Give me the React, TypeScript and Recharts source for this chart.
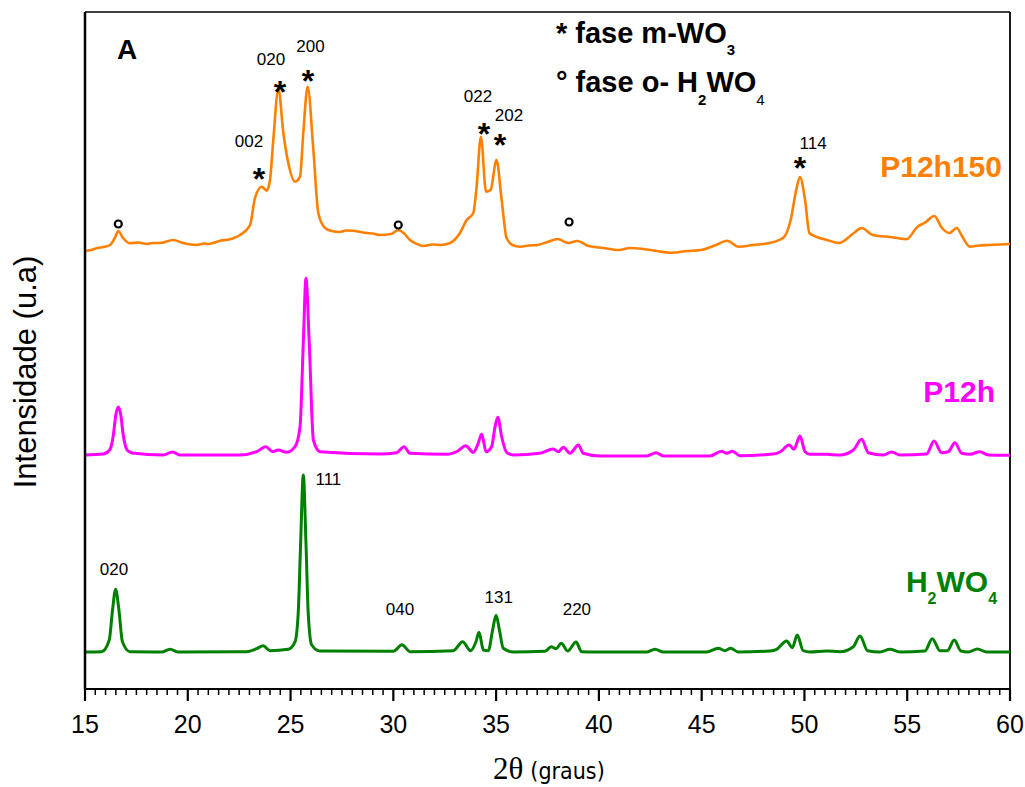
import React from 'react';
import { LineChart, Line, XAxis, YAxis, ReferenceDot, ReferenceLine } from 'recharts';

// ---- axis ticks ----
const MAJOR_TICKS = [15, 20, 25, 30, 35, 40, 45, 50, 55, 60];
const MINOR_STEP = 0.5;
const ALL_TICKS = Array.from({ length: 91 }, (_, i) => 15 + i * MINOR_STEP);
const X_DOMAIN: [number, number] = [15, 60];
const Y_DOMAIN: [number, number] = [0, 677];

// ---- series: [2theta, intensity above own baseline] ----
const H2WO4: [number, number][] = [
  [15.0, 0], [15.81, 0.3], [16.18, 12], [16.34, 42], [16.49, 62.7], [16.65, 42], [16.82, 10.3],
  [17.19, 0.3], [18.73, 0], [19.14, 2.7], [19.54, 0], [22.86, 0.3], [23.35, 3.3], [23.67, 6.3],
  [24.0, 1.3], [24.89, 2.7], [25.22, 10.3], [25.38, 42], [25.49, 108.7], [25.62, 177], [25.75, 108.7],
  [25.86, 38.7], [26.03, 7], [26.43, 1], [30.0, 0.7], [30.42, 7.3], [30.81, 0.3], [32.92, 1.3],
  [33.37, 10.3], [33.76, 1.3], [34.02, 10.3], [34.17, 19.7], [34.38, 2], [34.62, 1.3], [34.83, 22],
  [35.0, 36.7], [35.16, 22], [35.35, 3.7], [35.84, 0], [37.38, 0.7], [37.68, 5.3], [37.92, 3.3],
  [38.17, 8.7], [38.48, 1], [38.89, 10], [39.16, 0.3], [39.89, 0], [42.32, 0], [42.73, 2.7],
  [43.13, 0], [45.24, 0], [45.81, 3.7], [46.13, 1.3], [46.41, 3.7], [46.78, 0], [48.32, 1],
  [48.65, 2.7], [49.13, 11], [49.41, 4.3], [49.65, 17], [49.94, 1.3], [50.27, 0], [51.08, 1],
  [51.73, 0.3], [52.38, 5.3], [52.7, 16], [53.07, 1.3], [53.67, 0], [54.16, 2.7], [54.65, 0],
  [55.86, 1], [56.22, 13.3], [56.59, 1.3], [56.95, 1.3], [57.29, 12], [57.61, 1], [57.97, 0],
  [58.41, 3], [58.87, 0], [60.0, 0],
];

const P12H: [number, number][] = [
  [15.0, 0], [15.89, 1], [16.2, 5], [16.38, 20], [16.5, 40], [16.62, 48], [16.74, 40], [16.86, 20],
  [17.05, 5], [17.3, 2], [18.81, 0], [19.26, 3], [19.62, 0], [22.54, 0], [23.35, 3.3], [23.8, 8.3],
  [24.13, 3.3], [24.4, 5], [24.81, 2.7], [25.22, 8.3], [25.46, 28], [25.62, 112], [25.75, 176.7],
  [25.91, 112], [26.11, 15], [26.43, 3.3], [29.35, 1], [30.16, 2.3], [30.52, 8.3], [30.81, 1.7],
  [32.6, 0.7], [33.16, 4.3], [33.52, 9.3], [33.89, 2.7], [34.13, 11.7], [34.3, 21], [34.51, 3.3],
  [34.78, 8.3], [34.95, 28.3], [35.08, 37.7], [35.27, 18.3], [35.51, 2.7], [35.84, 0], [37.13, 1.7],
  [37.78, 6], [38.03, 3.3], [38.27, 7.7], [38.6, 1.7], [39.0, 10], [39.24, 1.7], [40.05, -1],
  [42.32, -1], [42.78, 2.3], [43.13, -1], [45.4, -1], [45.97, 3.7], [46.21, 1.7], [46.5, 3.7],
  [46.86, -0.7], [48.48, 1], [48.81, 3], [49.26, 10], [49.49, 5.7], [49.78, 19], [50.03, 3.3],
  [50.27, 0.7], [51.08, 0.7], [51.73, 0], [52.38, 5], [52.78, 15.7], [53.11, 2.3], [53.84, 0],
  [54.24, 3], [54.65, 0], [55.94, 1], [56.31, 14], [56.67, 2.3], [57.0, 3.3], [57.32, 12.3],
  [57.65, 1.7], [58.05, 0.7], [58.54, 3.3], [58.94, 0], [60.0, -0.3],
];

const P12H150: [number, number][] = [
  [15.0, -6], [15.3, -5], [15.6, -3], [15.9, -2], [16.22, 0], [16.45, 7], [16.62, 14], [16.85, 7],
  [17.19, 1.7], [17.6, 2.5], [18.0, 1], [18.3, 2], [18.65, 2], [19.3, 5], [19.7, 2.5], [20.0, 1],
  [20.43, 0], [20.8, 1.5], [21.0, 1], [21.3, 2.5], [21.57, 4.3], [22.0, 5.5], [22.54, 10], [23.03, 20],
  [23.27, 47], [23.6, 58.3], [23.84, 54.3], [24.0, 65], [24.16, 105], [24.41, 156], [24.65, 112],
  [24.89, 82], [25.22, 63.3], [25.46, 68.3], [25.62, 112], [25.83, 158.3], [26.11, 95], [26.35, 32],
  [26.68, 17], [27.0, 14], [27.4, 13], [27.7, 14.5], [28.05, 14.3], [28.4, 13], [28.7, 12], [29.0, 11.5],
  [29.35, 10], [29.9, 11], [30.24, 15], [30.5, 12], [30.81, 5], [31.1, 1.5], [31.46, -1], [31.9, 0.5],
  [32.3, 0], [32.76, 2], [33.24, 12], [33.57, 25], [33.89, 32], [34.05, 58],
  [34.26, 108.3], [34.51, 53.3], [34.73, 55], [35.02, 85], [35.27, 45], [35.51, 7], [35.8, 0], [36.16, -1.7],
  [36.6, -0.5], [37.0, 0], [37.5, 3], [38.0, 6], [38.5, 2], [38.95, 4], [39.5, -1], [40.2, -3], [40.98, -5],
  [41.5, -3], [42.07, -3.7], [42.8, -6], [43.5, -7.7], [44.3, -6], [44.97, -5], [45.7, 0], [46.23, 4.3],
  [46.8, -1.7], [47.5, 0], [48.23, 1.7], [48.96, 7], [49.33, 25], [49.6, 55], [49.78, 68], [50.03, 45],
  [50.24, 12], [50.6, 8], [51.1, 5], [51.68, 2], [52.4, 12], [52.78, 17], [53.32, 10], [54.05, 8.3],
  [54.5, 7], [54.96, 5.7], [55.5, 18.3], [55.86, 22.3], [56.32, 29], [56.69, 17], [57.05, 12], [57.41, 17],
  [57.68, 8.3], [58.05, -1.7], [58.5, -0.5], [59.0, 0], [59.5, 0.5], [60.0, 1],
];

// vertical offsets of the stacked patterns
const OFFSETS = { h2wo4: 37, p12h: 234, p12h150: 444 };

const COLORS = { h2wo4: '#008000', p12h: '#FF00FF', p12h150: '#FF8000' };

// ---- annotations (data coordinates) ----
const PEAK_LABELS: { x: number; y: number; t: string }[] = [
  { x: 24.05, y: 624, t: '020' },
  { x: 25.97, y: 637.5, t: '200' },
  { x: 22.98, y: 542, t: '002' },
  { x: 34.12, y: 587, t: '022' },
  { x: 35.63, y: 568.5, t: '202' },
  { x: 50.42, y: 540, t: '114' },
  { x: 16.41, y: 114.5, t: '020' },
  { x: 26.84, y: 204, t: '111' },
  { x: 30.32, y: 74.5, t: '040' },
  { x: 35.13, y: 86.5, t: '131' },
  { x: 38.93, y: 74.5, t: '220' },
];
const STAR_MARKS: { x: number; y: number }[] = [
  { x: 23.46, y: 499 }, { x: 24.49, y: 586 }, { x: 25.85, y: 597 },
  { x: 34.41, y: 544 }, { x: 35.19, y: 533 }, { x: 49.78, y: 510 },
];
const CIRCLE_MARKS: { x: number; y: number }[] = [
  { x: 16.62, y: 465 }, { x: 30.24, y: 464 }, { x: 38.55, y: 467 },
];

const FONT = '"Liberation Sans", Arial, Helvetica, sans-serif';
const W = 1025;
const H = 787;
const AXIS_Y = 689;

const toData = (arr: [number, number][], off: number) => arr.map(([x, v]) => ({ x, y: v + off }));

const XTick = (props: any) => {
  const { x, payload } = props;
  const v = payload.value as number;
  const major = MAJOR_TICKS.some((m) => Math.abs(m - v) < 1e-6);
  return (
    <g>
      <line x1={x} x2={x} y1={AXIS_Y} y2={AXIS_Y + (major ? 12 : 6)} stroke="#000" strokeWidth={major ? 2.2 : 1.5} />
      {major && (
        <text x={x} y={AXIS_Y + 44} textAnchor="middle" fontFamily={FONT} fontSize={25} fill="#000">
          {v}
        </text>
      )}
    </g>
  );
};

const XTitle = () => (
  <text x={493} y={779} fill="#000">
    <tspan fontFamily='"Liberation Serif", "Times New Roman", serif' fontSize={31}>2θ</tspan>
    <tspan dx={7} fontFamily='"Liberation Sans Narrow", "DejaVu Sans Condensed", "Roboto Condensed", "Liberation Sans", sans-serif' fontSize={23}>(graus)</tspan>
  </text>
);

const YTitle = () => (
  <text x={36} y={372} transform="rotate(-90, 36, 372)" textAnchor="middle" fontFamily={FONT} fontSize={31} fill="#000">
    Intensidade (u.a)
  </text>
);

export default function App() {
  return (
    <div style={{ position: 'absolute', left: 0, top: 0, width: W, height: H, background: '#fff' }}>
      <LineChart width={W} height={H} margin={{ top: 12, right: 15, bottom: 0, left: 0 }}>
        <XAxis
          dataKey="x"
          type="number"
          domain={X_DOMAIN}
          allowDataOverflow
          ticks={ALL_TICKS}
          interval={0}
          tick={<XTick />}
          tickLine={false}
          axisLine={{ stroke: '#000', strokeWidth: 2.2 }}
          height={98}
          label={<XTitle />}
        />
        <YAxis
          type="number"
          domain={Y_DOMAIN}
          allowDataOverflow
          tick={false}
          tickLine={false}
          axisLine={{ stroke: '#000', strokeWidth: 2.5 }}
          width={85}
          label={<YTitle />}
        />
        <ReferenceLine y={Y_DOMAIN[1]} stroke="#000" strokeWidth={1.5} ifOverflow="visible" />
        <ReferenceLine x={X_DOMAIN[1]} stroke="#000" strokeWidth={1.8} ifOverflow="visible" />

        <Line data={toData(H2WO4, OFFSETS.h2wo4)} dataKey="y" type="monotone" stroke={COLORS.h2wo4} strokeWidth={3} dot={false} isAnimationActive={false} />
        <Line data={toData(P12H, OFFSETS.p12h)} dataKey="y" type="monotone" stroke={COLORS.p12h} strokeWidth={3} dot={false} isAnimationActive={false} />
        <Line data={toData(P12H150, OFFSETS.p12h150)} dataKey="y" type="monotone" stroke={COLORS.p12h150} strokeWidth={2.6} dot={false} isAnimationActive={false} />

        {PEAK_LABELS.map((p, i) => (
          <ReferenceDot key={'pl' + i} x={p.x} y={p.y} r={0}
            shape={(s: any) => (
              <text x={s.cx} y={s.cy} textAnchor="middle" fontFamily={FONT} fontSize={17} fill="#000">{p.t}</text>
            )} />
        ))}
        {STAR_MARKS.map((p, i) => (
          <ReferenceDot key={'st' + i} x={p.x} y={p.y} r={0}
            shape={(s: any) => (
              <text x={s.cx} y={s.cy} textAnchor="middle" fontFamily={FONT} fontWeight="bold" fontSize={32} fill="#000">*</text>
            )} />
        ))}
        {CIRCLE_MARKS.map((p, i) => (
          <ReferenceDot key={'ci' + i} x={p.x} y={p.y} r={3.5} fill="#fff" stroke="#000" strokeWidth={2.2} />
        ))}

        <ReferenceDot x={16.56} y={630} r={0}
          shape={(s: any) => (
            <text x={s.cx} y={s.cy} fontFamily={FONT} fontWeight="bold" fontSize={28} fill="#000">A</text>
          )} />
        <ReferenceDot x={37.91} y={646} r={0}
          shape={(s: any) => (
            <text x={s.cx} y={s.cy} fontFamily={FONT} fontWeight="bold" fontSize={29} fill="#000">
              <tspan>* fase m-WO</tspan>
              <tspan fontSize={15} dy={12}>3</tspan>
            </text>
          )} />
        <ReferenceDot x={37.91} y={597} r={0}
          shape={(s: any) => (
            <text x={s.cx} y={s.cy} fontFamily={FONT} fontWeight="bold" fontSize={29} fill="#000">
              <tspan>° fase o- H</tspan>
              <tspan fontSize={15} dy={13}>2</tspan>
              <tspan dy={-13}>WO</tspan>
              <tspan fontSize={15} fontWeight="normal" dy={13}>4</tspan>
            </text>
          )} />

        <ReferenceDot x={59.61} y={512} r={0}
          shape={(s: any) => (
            <text x={s.cx} y={s.cy} textAnchor="end" fontFamily={FONT} fontWeight="bold" fontSize={30} fill={COLORS.p12h150}>P12h150</text>
          )} />
        <ReferenceDot x={59.27} y={287} r={0}
          shape={(s: any) => (
            <text x={s.cx} y={s.cy} textAnchor="end" fontFamily={FONT} fontWeight="bold" fontSize={30} fill={COLORS.p12h}>P12h</text>
          )} />
        <ReferenceDot x={59.37} y={97} r={0}
          shape={(s: any) => (
            <text x={s.cx} y={s.cy} textAnchor="end" fontFamily={FONT} fontWeight="bold" fontSize={30} fill={COLORS.h2wo4}>
              <tspan>H</tspan>
              <tspan fontSize={16} dy={12}>2</tspan>
              <tspan dy={-12}>WO</tspan>
              <tspan fontSize={16} dy={12}>4</tspan>
            </text>
          )} />
      </LineChart>
    </div>
  );
}
